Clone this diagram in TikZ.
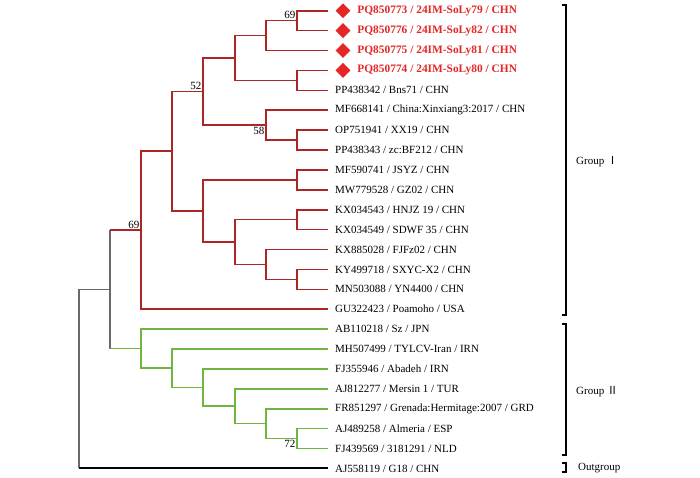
\documentclass[tikz,border=0pt]{standalone}
\usepackage{fontspec}
\setmainfont{Liberation Serif}
\newfontfamily\cjk{Noto Sans CJK SC}
\usetikzlibrary{positioning,shapes.geometric,calc}
\definecolor{treered}{RGB}{172,38,38}
\definecolor{tipred}{RGB}{228,38,38}
\definecolor{treegreen}{RGB}{112,182,62}
\definecolor{treegrey}{RGB}{105,105,105}
% internal node halfway between two children, at a given x
\def\clade#1#2#3#4{\path let \p1=(#3), \p2=(#4) in (#2pt,{(\y1+\y2)/2}) coordinate (#1);}

\begin{document}
\begin{tikzpicture}[x=1pt, y=-1pt,
                      every node/.style = {font=\fontsize{11}{13}\selectfont},
                      redbr/.style = {draw=treered, line width=1.6pt},
                      greenbr/.style = {draw=treegreen, line width=1.6pt},
                      greybr/.style = {draw=treegrey, line width=1.1pt},
                      outbr/.style = {draw=black, line width=2pt},
                      leaf/.style = {anchor=west, inner sep=2pt, xshift=5pt},
                      gem/.style = {diamond, fill=tipred, inner sep=0pt,
                        minimum size=15pt},
                      hit/.style = {inner sep=2pt, text=tipred,
                        font=\fontsize{11.4}{13}\selectfont\bfseries},
                      boot/.style = {inner sep=1.5pt},
                      bracket/.style = {draw=black, line width=1.4pt}]
  \useasboundingbox (0,0) rectangle (700,477);
  % tips
  \foreach \i in {1,...,24}
    \coordinate (t\i) at (328,{10.7+19.9*(\i-1)});
  % group I
  \clade{A}{297}{t1}{t2}
  \clade{B}{266}{A}{t3}
  \clade{D}{297}{t4}{t5}
  \clade{C}{235}{B}{D}
  \clade{G}{297}{t7}{t8}
  \clade{F}{266}{t6}{G}
  \clade{E}{203}{C}{F}
  \clade{J}{297}{t9}{t10}
  \clade{L}{297}{t11}{t12}
  \clade{N}{297}{t14}{t15}
  \clade{M}{266}{t13}{N}
  \clade{K}{235}{L}{M}
  \clade{I}{203}{J}{K}
  \clade{H}{172}{E}{I}
  \clade{O}{141}{H}{t16}
  % group II
  \clade{V}{297}{t22}{t23}
  \clade{U}{266}{t21}{V}
  \clade{T}{235}{t20}{U}
  \clade{S}{203}{t19}{T}
  \clade{R}{172}{t18}{S}
  \clade{Q}{141}{t17}{R}
  % backbone
  \clade{P}{110}{O}{Q}
  \clade{root}{79}{P}{t24}

  \foreach \a/\b in {A/t1,A/t2,B/A,B/t3,D/t4,D/t5,C/B,C/D,G/t7,G/t8,
                     F/t6,F/G,E/C,E/F,J/t9,J/t10,L/t11,L/t12,N/t14,N/t15,
                     M/t13,M/N,K/L,K/M,I/J,I/K,H/E,H/I,O/H,O/t16}
    \draw[redbr] (\a) |- (\b);
  \foreach \a/\b in {V/t22,V/t23,U/t21,U/V,T/t20,T/U,S/t19,S/T,
                     R/t18,R/S,Q/t17,Q/R}
    \draw[greenbr] (\a) |- (\b);
  \draw[greybr] (P |- O) -- (P |- Q);
  \draw[redbr] (P |- O) -- (O);
  \draw[greenbr] (P |- Q) -- (Q);
  \draw[greybr] (root) |- (P);
  \draw[greybr] (root) -- (root |- t24);
  \draw[outbr] (root |- t24) -- (t24);

  % bootstrap values
  \node[boot, anchor=south east] (bA) at (A) {69};
  \node[boot, anchor=south east] (bE) at (E) {52};
  \node[boot, anchor=north east] (bF) at (F) {58};
  \node[boot, anchor=south east] (bO) at (O) {69};
  \node[boot, anchor=north east] (bV) at (V) {72};

  % new isolates
  \foreach \i/\txt in {1/{PQ850773 / 24IM-SoLy79 / CHN},
                       2/{PQ850776 / 24IM-SoLy82 / CHN},
                       3/{PQ850775 / 24IM-SoLy81 / CHN},
                       4/{PQ850774 / 24IM-SoLy80 / CHN}}{
    \node[gem] (d\i) at ($(t\i)+(15,0)$) {};
    \node[hit, right=4.5pt of d\i] (l\i) {\txt};
  }
  \foreach \i/\txt in {5/{PP438342 / Bns71 / CHN},
                       6/{MF668141 / China:Xinxiang3:2017 / CHN},
                       7/{OP751941 / XX19 / CHN},
                       8/{PP438343 / zc:BF212 / CHN},
                       9/{MF590741 / JSYZ / CHN},
                       10/{MW779528 / GZ02 / CHN},
                       11/{KX034543 / HNJZ 19 / CHN},
                       12/{KX034549 / SDWF 35 / CHN},
                       13/{KX885028 / FJFz02 / CHN},
                       14/{KY499718 / SXYC-X2 / CHN},
                       15/{MN503088 / YN4400 / CHN},
                       16/{GU322423 / Poamoho / USA},
                       17/{AB110218 / Sz / JPN},
                       18/{MH507499 / TYLCV-Iran / IRN},
                       19/{FJ355946 / Abadeh / IRN},
                       20/{AJ812277 / Mersin 1 / TUR},
                       21/{FR851297 / Grenada:Hermitage:2007 / GRD},
                       22/{AJ489258 / Almeria / ESP},
                       23/{FJ439569 / 3181291 / NLD},
                       24/{AJ558119 / G18 / CHN}}
    \node[leaf] (l\i) at (t\i) {\txt};

  % groups
  \draw[bracket] (562,5) -- (566,5) -- (566,315) -- (562,315);
  \draw[bracket] (562,324) -- (566,324) -- (566,455) -- (562,455);
  \draw[bracket] (562,463) -- (566,463) -- (566,472) -- (562,472);
  \node[anchor=west, inner sep=0pt] (g1) at (576,162) {Group {\cjk Ⅰ}};
  \node[anchor=west, inner sep=0pt] (g2) at (576,392) {Group {\cjk Ⅱ}};
  \node[anchor=west, inner sep=0pt] (g3) at (578,468) {Outgroup};
\end{tikzpicture}
\end{document}
